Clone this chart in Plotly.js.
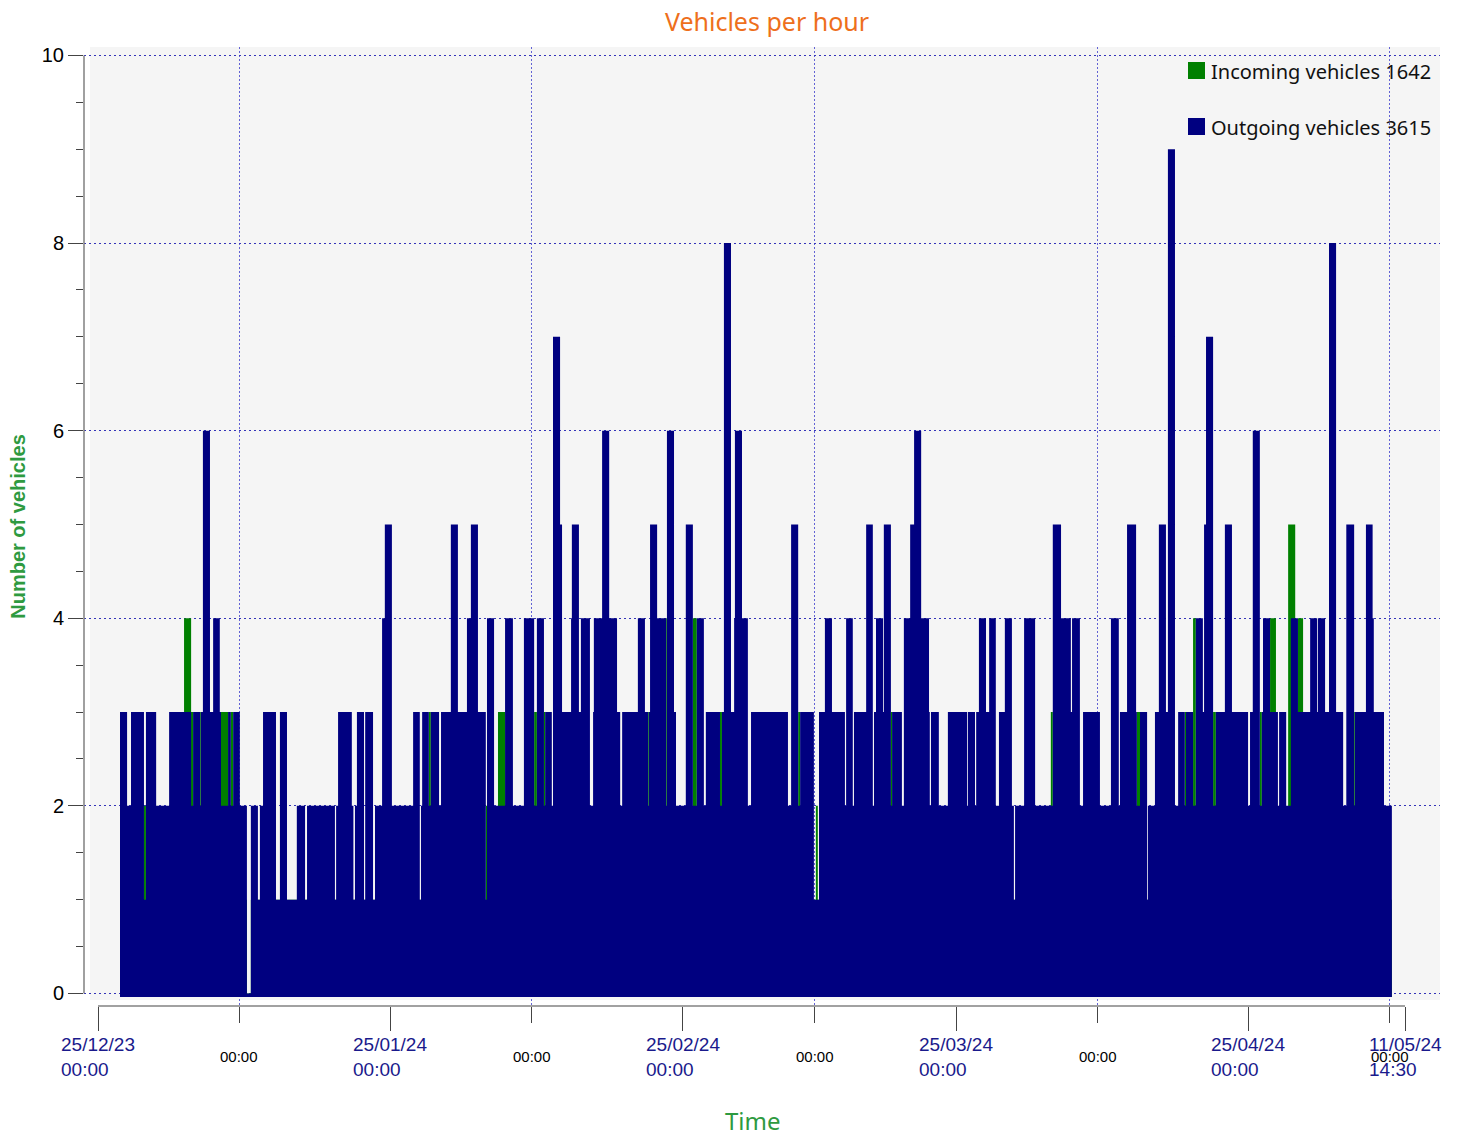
<!DOCTYPE html>
<html><head><meta charset="utf-8">
<script src="https://cdn.plot.ly/plotly-3.0.1.min.js"></script>
<style>html,body{margin:0;padding:0;background:#fff}</style>
</head><body><div id="chart" style="width:1457px;height:1137px"></div>
<script>
// Hours since 25/12/23 00:00 at which each hourly count level starts
const seriesStart = '2023-12-25T00:00:00Z';
const outHours = [56,74,84,117,122,148,181,237,242,260,262,267,285,293,310,313,331,338,344,361,379,389,407,412,420,453,463,481,506,527,532,
603,606,611,646,650,654,659,677,680,700,705,723,730,748,802,819,822,825,842,847,868,873,898,916,939,949,967,987,990,1008,1036,1056,1084,1110,1117,
1135,1138,1155,1158,1176,1181,1204,1206,1224,1229,1252,1260,1262,1283,1301,1321,1329,1334,1374,1392,1400,1402,1405,1423,1446,1448,1466,1471,1496,1514,1524,1542,1547,1583,1588,1593,1611,1619,1621,1639,1654,1662,
1756,1764,1782,1787,1822,1835,1850,1868,1901,1904,1921,1924,1955,1972,1975,1980,1998,2000,2018,2021,2046,2051,2067,2077,2095,2115,2117,2120,2140,2163,2212,2214,
2232,2235,2242,2260,2268,2285,2293,2308,2326,2331,2334,2357,2385,2430,2451,2476,2479,2499,2507,2550,2578,2598,2601,2619,2642,2644,2652,2670,2672,2690,2700,2718,2723,2741,2749,
2766,2769,2787,2794,2812,2815,2820,2838,2845,2868,2886,2927,2932,2939,2957,2962,2965,2983,3003,3006,3024,3036,3054,3085,3103,3105,3123,3133,3151,3169,3177,3197,3199,3227,3244,3247,3273,3293];
const outCounts = [3,2,3,1,3,2,3,2,3,2,3,6,3,4,3,2,3,2,3,2,0,2,1,2,3,1,3,1,2,1,2,
1,2,3,2,1,2,3,1,3,1,2,4,5,2,3,1,2,3,2,3,2,3,5,3,4,5,3,1,4,2,4,2,4,2,4,
2,3,2,7,5,3,4,5,3,4,2,3,4,6,4,3,2,3,4,3,2,3,5,4,2,6,3,2,5,2,4,2,3,2,3,8,3,4,6,4,2,3,
2,5,2,3,1,3,4,3,2,4,2,3,5,2,3,4,3,5,2,3,2,4,5,6,4,3,2,3,2,3,2,3,
2,3,4,3,4,2,3,4,2,1,2,4,2,5,4,3,4,2,3,2,4,2,3,5,3,2,3,1,2,3,5,3,9,2,3,
2,3,2,4,3,5,7,2,3,5,3,2,3,6,2,3,4,3,2,3,2,4,3,4,3,4,3,8,3,2,5,2,3,5,4,3,2,0];
const inHours = [56,117,122,219,237,242,260,262,313,331,338,344,379,389,842,847,987,990,1018,1036,1110,1117,1135,1138,1400,1402,1446,1448,1514,1524,1583,1588,
1782,1787,1827,1832,2018,2021,2425,2430,2644,2652,2766,2769,2787,2794,2838,2845,2957,2962,2983,2998,3029,3047,3054,3067,3197,3199,3293];
const inCounts = [1,2,1,4,3,1,3,1,3,1,3,1,0,1,3,1,2,1,3,1,3,1,3,1,3,1,4,1,4,1,3,1,
3,1,2,1,3,1,3,1,3,1,3,1,4,1,3,1,3,1,4,1,5,1,4,1,3,1,0];
const inTotal = 1642;
const outTotal = 3615;
const majorTickDates = ['2023-12-25 00:00','2024-01-25 00:00','2024-02-25 00:00','2024-03-25 00:00','2024-04-25 00:00','2024-05-11 14:30'];
const majorTickLine1 = ['25/12/23','25/01/24','25/02/24','25/03/24','25/04/24','11/05/24'];
const majorTickLine2 = ['00:00','00:00','00:00','00:00','00:00','14:30'];
const minorTickDates = ['2024-01-09 00:00','2024-02-09 00:00','2024-03-10 00:00','2024-04-09 00:00','2024-05-10 00:00'];
const minorTickLabels = ['00:00','00:00','00:00','00:00','00:00'];

const NAVY = '#000080', GREEN = '#008000';
const BAR_BASE = -0.038;
const t0 = Date.parse(seriesStart);
function hourToDate(h){ return new Date(t0 + h*3600000).toISOString().slice(0,19).replace('T',' '); }
function stepArea(hours, counts){
  const xs = [hourToDate(hours[0])], ys = [BAR_BASE];
  hours.forEach((h,i)=>{ xs.push(hourToDate(h)); ys.push(counts[i]); });
  xs.push(hourToDate(hours[hours.length-1])); ys.push(BAR_BASE);
  return {xs, ys};
}
const inArea = stepArea(inHours, inCounts);
const outArea = stepArea(outHours, outCounts);

const traces = [
  {type:'scatter', mode:'lines', x:inArea.xs, y:inArea.ys, line:{shape:'hv', width:0, color:GREEN},
   fill:'toself', fillcolor:GREEN, name:'Incoming vehicles ' + inTotal, hoverinfo:'skip'},
  {type:'scatter', mode:'lines', x:outArea.xs, y:outArea.ys, line:{shape:'hv', width:0, color:NAVY},
   fill:'toself', fillcolor:NAVY, name:'Outgoing vehicles ' + outTotal, hoverinfo:'skip'}
];

const TICKC = '#444';
const GRIDC = '#3333b8';
const VGRIDC = '#6262d4';
const annotations = [];
majorTickDates.forEach((d,i)=>{
  annotations.push({x:d, xref:'x', y:0, yref:'paper', yanchor:'top', yshift:-26, xanchor:'center', align:'left',
    showarrow:false, text: majorTickLine1[i] + '<br>' + majorTickLine2[i],
    font:{family:'Liberation Sans, Arial, sans-serif', size:19, color:'#1a1a8c'}});
});
minorTickDates.forEach((d,i)=>{
  annotations.push({x:d, xref:'x', y:0, yref:'paper', yanchor:'middle', yshift:-50, xanchor:'center',
    showarrow:false, text: minorTickLabels[i],
    font:{family:'Liberation Sans, Arial, sans-serif', size:15, color:'#000'}});
});
// x-axis title (placed as annotation for exact position)
annotations.push({x:(753-84)/1356, xref:'paper', y:0, yref:'paper', yshift:-114, yanchor:'middle', xanchor:'center',
  showarrow:false, text:'Time', font:{family:'Noto Sans, sans-serif', size:24, color:'#2e9a40'}});
// legend entries
[[traces[0].name, GREEN, -24], [traces[1].name, NAVY, -80]].forEach(([txt,col,dy])=>{
  annotations.push({x:1, xref:'paper', xshift:-231, xanchor:'left', y:1, yref:'paper', yshift:dy, yanchor:'middle',
    showarrow:false, text:txt, font:{family:'Noto Sans, sans-serif', size:20, color:'#111'}});
});

const shapes = [
  {type:'rect', layer:'below', xref:'paper', yref:'y', x0:6/1356, x1:1, y0:-0.07, y1:10.2, fillcolor:'#f5f5f5', line:{width:0}},
  {type:'line', xref:'x', yref:'paper', x0:majorTickDates[0], x1:majorTickDates[majorTickDates.length-1], y0:0, y1:0, line:{color:TICKC, width:1.2}},
  {type:'line', xref:'paper', yref:'y', x0:0, x1:0, y0:0, y1:10, line:{color:'#808080', width:1.5}},
  {type:'rect', xref:'paper', yref:'paper', xsizemode:'pixel', ysizemode:'pixel', xanchor:1, yanchor:1,
    x0:-252, x1:-235, y0:-32, y1:-15, fillcolor:GREEN, line:{width:0}},
  {type:'rect', xref:'paper', yref:'paper', xsizemode:'pixel', ysizemode:'pixel', xanchor:1, yanchor:1,
    x0:-252, x1:-235, y0:-88, y1:-71, fillcolor:NAVY, line:{width:0}}
];

const layout = {
  width:1457, height:1137,
  margin:{l:84, r:17, t:47, b:131, autoexpand:false},
  paper_bgcolor:'#ffffff', plot_bgcolor:'rgba(0,0,0,0)',
  showlegend:false, hovermode:false,
  title:{text:'Vehicles per hour', x:(767-84)/1356, xref:'paper', xanchor:'center', y:1-22/1137, yref:'container', yanchor:'middle',
    font:{family:'Noto Sans, sans-serif', size:25, color:'#ee6f1c'}},
  xaxis:{type:'date', range:['2023-12-23 12:22','2024-05-15 07:29'], tickmode:'array', tickvals:majorTickDates,
    showticklabels:false, ticks:'outside', ticklen:24, tickwidth:1, tickcolor:TICKC,
    showgrid:false, gridcolor:VGRIDC, zeroline:false, showline:false,
    minor:{tickmode:'array', tickvals:minorTickDates, ticks:'outside', ticklen:16, tickwidth:1, tickcolor:TICKC,
      showgrid:true, gridcolor:VGRIDC, gridwidth:1, griddash:'2px,2px'}},
  yaxis:{range:[-0.134, 10.09], tickmode:'array', tickvals:[0,2,4,6,8,10], ticktext:['0','2','4','6','8','10'],
    ticks:'outside', ticklen:15, tickwidth:1, tickcolor:TICKC, showgrid:true, gridcolor:GRIDC, gridwidth:1, griddash:'2px,3px',
    zeroline:false, showline:false,
    tickfont:{family:'Liberation Sans, Arial, sans-serif', size:20, color:'#000'},
    minor:{dtick:0.5, tick0:0, ticks:'outside', ticklen:7, tickwidth:1, tickcolor:TICKC, showgrid:false},
    title:{text:'Number of vehicles', standoff:10, font:{family:'Liberation Sans, Arial, sans-serif', size:20, color:'#2e9a40', weight:'bold'}}},
  annotations, shapes
};
Plotly.newPlot('chart', traces, layout, {staticPlot:true, displayModeBar:false});
</script></body></html>
